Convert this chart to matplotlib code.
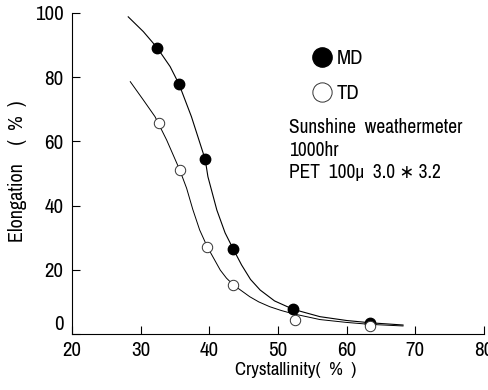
import matplotlib
matplotlib.use("Agg")
import matplotlib.pyplot as plt
from matplotlib import font_manager

# look for a narrow/condensed face, the scan uses a condensed grotesque
names = sorted({f.name for f in font_manager.fontManager.ttflist})
narrow = [n for n in names if "Narrow" in n or "Condensed" in n]
plt.rcParams["font.family"] = narrow[:1] + ["DejaVu Sans"]
plt.rcParams["font.stretch"] = "condensed"
k = 1.0 if narrow else 0.8

# measured points
md_x = [32.4, 35.6, 39.4, 43.5, 52.2, 63.4]
md_y = [89.2, 77.8, 54.4, 26.4, 7.7, 3.5]
td_x = [32.7, 35.7, 39.7, 43.5, 52.5, 63.4]
td_y = [65.6, 51.1, 27.2, 15.3, 4.4, 2.5]

# hand-drawn fitted curves
md_cx = [28.2, 30.4, 32.4, 34.3, 35.6, 37.4, 39.4, 39.8, 41.1, 42.3, 43.5, 44.7,
         46.0, 47.4, 49.5, 52.2, 56.1, 60.0, 63.4, 68.2]
md_cy = [98.8, 94.2, 89.2, 83.3, 77.8, 67.7, 54.4, 49.0, 38.6, 31.5, 26.4, 21.5,
         17.0, 13.7, 10.3, 7.7, 5.4, 4.2, 3.5, 2.8]
td_cx = [28.5, 30.4, 32.1, 33.8, 35.7, 36.7, 37.6, 38.6, 39.7, 41.6, 42.5, 43.5,
         45.9, 47.2, 48.8, 50.5, 52.2, 56.1, 60.0, 63.4, 68.2]
td_cy = [78.6, 72.9, 67.7, 60.4, 51.1, 45.4, 38.8, 32.4, 27.2, 19.9, 17.4, 15.3,
         11.6, 10.0, 8.5, 7.3, 6.3, 4.5, 3.6, 3.0, 2.5]

x_ticks = [20, 30, 40, 50, 60, 70, 80]
y_ticks = [0, 20, 40, 60, 80, 100]

fig = plt.figure(figsize=(4.89, 3.90), dpi=100)
ax = fig.add_axes([0.147, 0.1436, 0.843, 0.8231])

ax.plot(md_cx, md_cy, color="black", lw=0.8)
ax.plot(td_cx, td_cy, color="black", lw=0.7)
h_md, = ax.plot(md_x, md_y, "o", ms=7.5, color="black", mec="black", label="MD")
h_td, = ax.plot(td_x, td_y, "o", ms=7.5, mfc="white", mec="#333333", mew=0.7, label="TD")

ax.set_xlim(20, 80)
ax.set_ylim(0, 100)
ax.set_xticks(x_ticks)
ax.set_yticks(y_ticks)
for s in ["top", "right"]:
    ax.spines[s].set_visible(False)
for s in ["left", "bottom"]:
    ax.spines[s].set_linewidth(0.8)
ax.tick_params(direction="in", length=6, width=0.8, labelsize=15 * k)
ax.tick_params(axis="y", pad=6)
ax.tick_params(axis="x", pad=5)
ax.get_yticklabels()[0].set_verticalalignment("bottom")

ax.set_xlabel("Crystallinity(  %  )", fontsize=13.5 * k)
ax.set_ylabel("Elongation    (  %  )", fontsize=14.5 * k)
ax.xaxis.set_label_coords(0.544, -0.087)
ax.yaxis.set_label_coords(-0.109, 0.508)

ax.legend(handles=[h_md, h_td], loc="upper left", bbox_to_anchor=(0.532, 0.945),
          frameon=False, fontsize=15 * k, markerscale=1.85, labelspacing=0.75,
          handletextpad=0.1, handlelength=1.2, borderpad=0.4)

ax.text(0.527, 0.673, "Sunshine  weathermeter\n1000hr\nPET  100\u03bc  3.0 \u2217 3.2",
        transform=ax.transAxes, fontsize=14 * k, va="top", ha="left", linespacing=1.25)

fig.savefig("out.png", dpi=100)
